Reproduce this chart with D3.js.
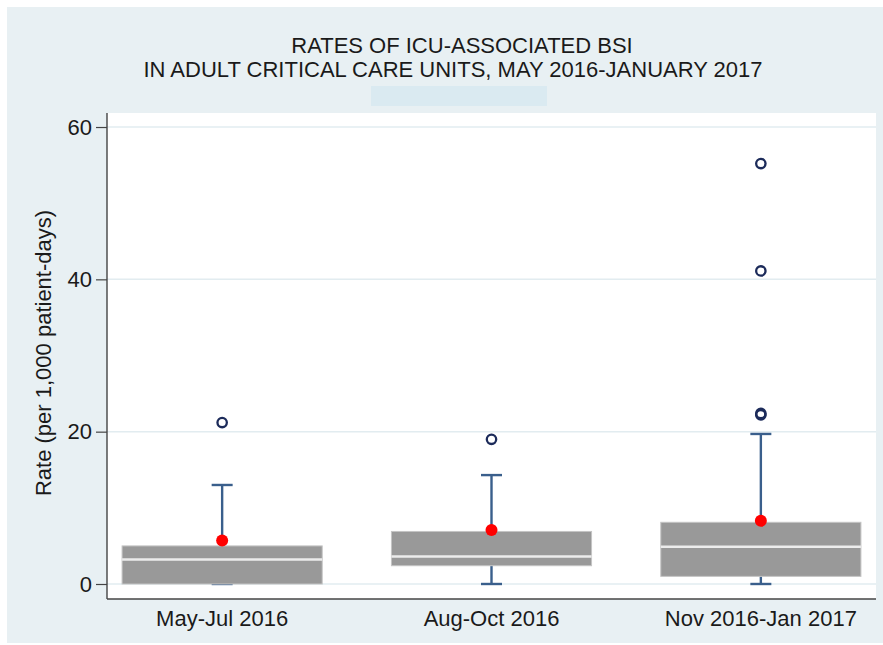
<!DOCTYPE html>
<html>
<head>
<meta charset="utf-8">
<script src="https://cdn.jsdelivr.net/npm/d3@7"></script>
<style>
  html, body { margin: 0; padding: 0; background: #ffffff; }
  svg { display: block; }
  text { font-family: "Liberation Sans", Arial, sans-serif; fill: #1a1a1a; }
</style>
</head>
<body>
<svg id="chart" width="883" height="645"></svg>
<script>
// ---- data ----
const categories = ["May-Jul 2016", "Aug-Oct 2016", "Nov 2016-Jan 2017"];
const q1 = [0.0, 2.4, 1.0];
const medians = [3.2, 3.6, 4.9];
const q3 = [5.0, 6.9, 8.1];
const whiskerLow = [0, 0, 0];
const whiskerHigh = [13.0, 14.3, 19.7];
const means = [5.7, 7.1, 8.3];
const outliers = [[21.2], [19.0], [22.2, 22.4, 41.1, 55.2]];
const yTicks = [0, 20, 40, 60];
const titleLines = ["RATES OF ICU-ASSOCIATED BSI", "IN ADULT CRITICAL CARE UNITS, MAY 2016-JANUARY 2017"];
const yTitle = "Rate (per 1,000 patient-days)";

const rows = categories.map((c, i) => ({
  cat: c, q1: q1[i], med: medians[i], q3: q3[i],
  lo: whiskerLow[i], hi: whiskerHigh[i], mean: means[i], out: outliers[i]
}));

const svg = d3.select("#chart");
const W = 883, H = 645;
const plot = { left: 107, right: 876, top: 113, bottom: 599 };

// outer background
svg.append("rect").attr("x", 7).attr("y", 7).attr("width", W - 7).attr("height", 643 - 7)
  .attr("fill", "#e8f0f3");
// plot region
svg.append("rect").attr("x", plot.left).attr("y", plot.top)
  .attr("width", plot.right - plot.left).attr("height", plot.bottom - plot.top)
  .attr("fill", "#ffffff");

const x = d3.scaleBand().domain(categories).range([plot.left, plot.right])
  .paddingInner(0.257).paddingOuter(0.056);
const y = d3.scaleLinear().domain([-1.97, 61.84]).range([plot.bottom, plot.top]);

// gridlines
svg.append("g").selectAll("line").data(yTicks).join("line")
  .attr("x1", plot.left).attr("x2", plot.right)
  .attr("y1", d => y(d)).attr("y2", d => y(d))
  .attr("stroke", "#e2ecf0").attr("stroke-width", 1.5);

// y axis
const yAxis = svg.append("g").attr("transform", `translate(${plot.left},0)`)
  .call(d3.axisLeft(y).tickValues(yTicks).tickSize(11).tickPadding(4).tickSizeOuter(0));
yAxis.select(".domain").attr("stroke", "#444").attr("stroke-width", 1.4)
  .attr("d", `M0,${plot.top}V${plot.bottom}`);
yAxis.selectAll(".tick line").attr("stroke", "#444").attr("stroke-width", 1.2);
yAxis.selectAll(".tick text").attr("font-size", 22).attr("fill", "#1a1a1a")
  .attr("font-family", '"Liberation Sans", Arial, sans-serif');

// x axis
const xAxis = svg.append("g").attr("transform", `translate(0,${plot.bottom})`)
  .call(d3.axisBottom(x).tickSize(0).tickPadding(11).tickSizeOuter(0));
xAxis.select(".domain").attr("stroke", "#444").attr("stroke-width", 1.4)
  .attr("d", `M${plot.left},0H${plot.right}`);
xAxis.selectAll(".tick text").attr("font-size", 22).attr("fill", "#1a1a1a")
  .attr("font-family", '"Liberation Sans", Arial, sans-serif');

// boxes
const bw = x.bandwidth();
const capW = 21;
const g = svg.append("g").selectAll("g").data(rows).join("g");
const cx = d => x(d.cat) + bw / 2;

// whiskers
g.append("line").attr("x1", cx).attr("x2", cx)
  .attr("y1", d => y(d.q3)).attr("y2", d => y(d.hi))
  .attr("stroke", "#3a5f8c").attr("stroke-width", 2.4);
g.append("line").attr("x1", cx).attr("x2", cx)
  .attr("y1", d => y(d.q1)).attr("y2", d => y(d.lo))
  .attr("stroke", "#3a5f8c").attr("stroke-width", 2.4);
g.append("line").attr("x1", d => cx(d) - capW / 2).attr("x2", d => cx(d) + capW / 2)
  .attr("y1", d => y(d.hi)).attr("y2", d => y(d.hi))
  .attr("stroke", "#3a5f8c").attr("stroke-width", 2.4);
g.append("line").attr("x1", d => cx(d) - capW / 2).attr("x2", d => cx(d) + capW / 2)
  .attr("y1", d => y(d.lo)).attr("y2", d => y(d.lo))
  .attr("stroke", "#3a5f8c").attr("stroke-width", 2.4);

// box
g.append("rect").attr("x", d => x(d.cat)).attr("width", bw)
  .attr("y", d => y(d.q3)).attr("height", d => y(d.q1) - y(d.q3))
  .attr("fill", "#999999").attr("stroke", "#c4c4c4").attr("stroke-width", 1);
// median
g.append("line").attr("x1", d => x(d.cat)).attr("x2", d => x(d.cat) + bw)
  .attr("y1", d => y(d.med)).attr("y2", d => y(d.med))
  .attr("stroke", "#ececec").attr("stroke-width", 2.5);

// outliers
g.selectAll("circle.out").data(d => d.out.map(v => ({ v, c: cx(d) }))).join("circle")
  .attr("class", "out").attr("cx", d => d.c).attr("cy", d => y(d.v)).attr("r", 4.7)
  .attr("fill", "none").attr("stroke", "#1c2b5a").attr("stroke-width", 2.3);

// means
g.append("circle").attr("cx", cx).attr("cy", d => y(d.mean)).attr("r", 6)
  .attr("fill", "#ff0000");

// titles
svg.append("text").attr("x", 462).attr("y", 53).attr("text-anchor", "middle")
  .attr("font-size", 22).text(titleLines[0]);
svg.append("text").attr("x", 453).attr("y", 77).attr("text-anchor", "middle")
  .attr("font-size", 22).text(titleLines[1]);
// masked subtitle area
svg.append("rect").attr("x", 371).attr("y", 86).attr("width", 176).attr("height", 20)
  .attr("fill", "#daeaf1");

// y title
svg.append("text").attr("transform", "translate(51,353) rotate(-90)")
  .attr("text-anchor", "middle").attr("font-size", 22).text(yTitle);
</script>
</body>
</html>
